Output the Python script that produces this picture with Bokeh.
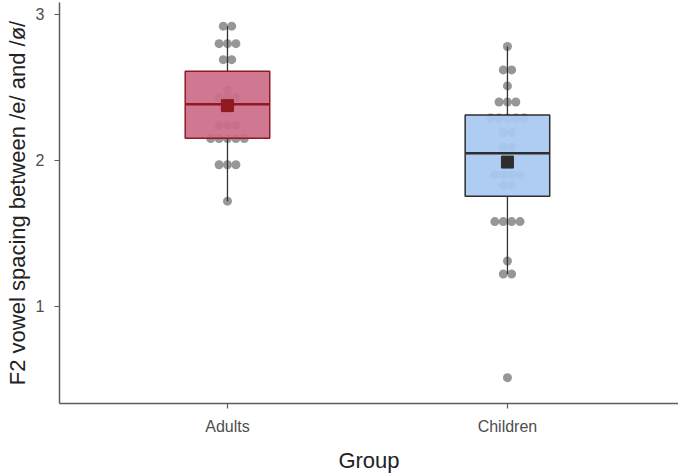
from bokeh.plotting import figure
from bokeh.models import FixedTicker, Range1d
from bokeh.embed import file_html
from bokeh.resources import INLINE
from collections import Counter

# ---- data ----
groups = ["Adults", "Children"]
group_pos = [1, 2]

adults_values = [2.92, 2.92, 2.80, 2.80, 2.80, 2.69, 2.69, 2.48, 2.43, 2.43, 2.43,
                 2.37, 2.37, 2.24, 2.24, 2.24, 2.15, 2.15, 2.15, 2.15, 2.15,
                 1.97, 1.97, 1.97, 1.72]
children_values = [2.78, 2.62, 2.62, 2.51, 2.40, 2.40, 2.40, 2.29, 2.29, 2.29, 2.29, 2.29,
                   2.19, 2.19, 2.09, 2.09, 1.90, 1.90, 1.90, 1.90, 1.83, 1.83,
                   1.58, 1.58, 1.58, 1.58, 1.31, 1.22, 1.22, 0.51]

q1 = [2.152, 1.753]
medians = [2.384, 2.049]
q3 = [2.611, 2.311]
whisk_lo = [1.72, 1.22]
whisk_hi = [2.92, 2.78]
means = [2.375, 1.988]

y_ticks = [1, 2, 3]
x_title = "Group"
y_title = "F2 vowel spacing between /e/ and /ø/"

fills = ["#cc6d8a", "#a9c8f1"]
edges = ["#8e1b22", "#2e2e2e"]

FONT = "Liberation Sans"

p = figure(width=678, height=475, output_backend="svg", toolbar_location=None,
           x_range=Range1d(0.4, 2.611), y_range=Range1d(0.333, 3.082),
           min_border_left=59, min_border_right=0, min_border_top=2, min_border_bottom=72)
p.outline_line_color = None
p.xgrid.visible = False
p.ygrid.visible = False
p.background_fill_color = "white"
p.border_fill_color = "white"

# points (centered dot-stacks for equal values)
spacing = 0.03
for pos, vals in zip(group_pos, [adults_values, children_values]):
    counts = Counter(vals)
    xs, ys = [], []
    for v, n in counts.items():
        for i in range(n):
            xs.append(pos + (i - (n - 1) / 2) * spacing)
            ys.append(v)
    p.scatter(xs, ys, size=9, fill_color="#858585", fill_alpha=0.85, line_color=None)

# whiskers
p.segment(x0=group_pos, y0=q3, x1=group_pos, y1=whisk_hi, line_color="#333333", line_width=1.3)
p.segment(x0=group_pos, y0=q1, x1=group_pos, y1=whisk_lo, line_color="#333333", line_width=1.3)

# boxes
half = 0.151
p.quad(left=[g - half for g in group_pos], right=[g + half for g in group_pos],
       bottom=q1, top=q3, fill_color=fills, fill_alpha=0.93, line_color=edges, line_width=1.5)
# medians
p.segment(x0=[g - half for g in group_pos], x1=[g + half for g in group_pos],
          y0=medians, y1=medians, line_color=edges, line_width=2.5)
# means
p.scatter(group_pos, means, marker="square", size=12, fill_color=edges, line_color=edges)

# axes
for ax in (p.xaxis[0], p.yaxis[0]):
    ax.axis_line_color = "#5c5c5c"
    ax.axis_line_width = 1.5
    ax.major_tick_line_color = "#5c5c5c"
    ax.major_tick_line_width = 1.2
    ax.major_tick_in = 0
    ax.major_tick_out = 5
    ax.minor_tick_line_color = None
    ax.major_label_text_font = FONT
    ax.major_label_text_font_size = "16px"
    ax.major_label_text_color = "#4d4d4d"
    ax.axis_label_text_font = FONT
    ax.axis_label_text_font_size = "22px"
    ax.axis_label_text_font_style = "normal"
    ax.axis_label_text_color = "#222222"

p.xaxis.ticker = FixedTicker(ticks=group_pos)
p.xaxis.major_label_overrides = {g: name for g, name in zip(group_pos, groups)}
p.xaxis.axis_label = x_title
p.xaxis.major_label_standoff = 9
p.xaxis.axis_label_standoff = 10

p.yaxis.ticker = FixedTicker(ticks=y_ticks)
p.yaxis.axis_label = y_title
p.yaxis.major_label_standoff = 10
p.yaxis.axis_label_standoff = 3

open("out.html", "w").write(file_html(p, INLINE))
